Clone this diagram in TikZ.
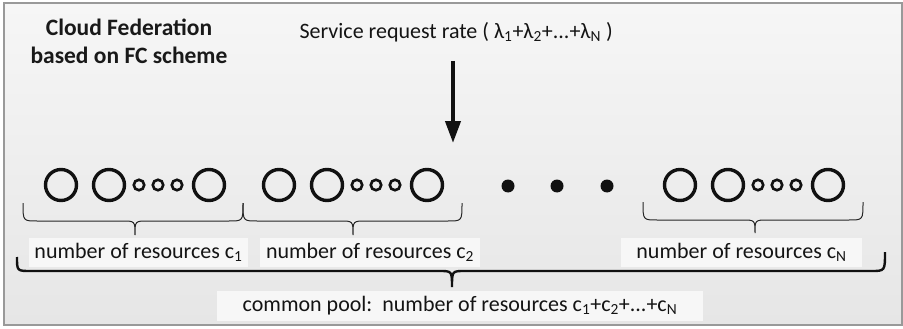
\documentclass[tikz,border=0pt]{standalone}
\usepackage{fontspec}
\setmainfont{Carlito}
\usetikzlibrary{arrows.meta,shapes.geometric}
\definecolor{framegray}{HTML}{999999}
\definecolor{boxfill}{HTML}{F7F7F7}
\definecolor{bgtop}{HTML}{F6F6F6}
\definecolor{bgbot}{HTML}{E6E6E6}
\definecolor{inkblack}{HTML}{111111}
\newcommand\dobrace[7]{%
  \draw[#1] (#2,#4) .. controls (#2,#5) .. ({#2+14},#5) -- ({#6-13},#5)
    .. controls (#6,#5) .. (#6,#7) .. controls (#6,#5) .. ({#6+13},#5)
    -- ({#3-14},#5) .. controls (#3,#5) .. (#3,#4);}
\tikzset{
  bigres/.style={circle,draw=inkblack,line width=3.4pt,minimum size=31pt,inner sep=0pt},
  smallres/.style={circle,draw=inkblack,line width=2.6pt,minimum size=10.5pt,inner sep=0pt},
  dotres/.style={circle,fill=inkblack,minimum size=13pt,inner sep=0pt},
  thinbrace/.style={draw=black!85,line width=1pt},
  thickbrace/.style={draw=inkblack,line width=2.4pt},
  labelbox/.style={fill=boxfill,inner sep=0pt,minimum height=29pt,font=\fontsize{22}{24}\selectfont,text=black!92},
  titletext/.style={font=\bfseries\fontsize{23.5}{28}\selectfont,align=center,text=black!90},
  ratetext/.style={font=\fontsize{22}{24}\selectfont,text=black!92},
}
\begin{document}
\begin{tikzpicture}[x=1pt,y=-1pt]
\useasboundingbox (0,0) rectangle (903,329);
\shade[top color=bgtop,bottom color=bgbot] (3.5,3.5) rectangle (901.5,325);
\draw[framegray,line width=2pt] (3.5,3.5) rectangle (901.5,325);

\node[titletext] (title) at (129,41) {Cloud Federation\\based on FC scheme};
\node[ratetext,anchor=west] (rate) at (296,32) {Service request rate ( λ\textsubscript{1}+λ\textsubscript{2}+...+λ\textsubscript{N} )};

\coordinate (arrtop) at (453,61);
\coordinate (arrtip) at (453,143);
\draw[inkblack,line width=4pt,-{Triangle[length=22pt,width=15pt]}] (arrtop) -- (arrtip);

\foreach \g/\n in {0/a,218/b,619/c}{
  \node[bigres] (\n1) at ({61+\g},185) {};
  \node[bigres] (\n2) at ({109+\g},185) {};
  \node[smallres] (\n3) at ({139+\g},185) {};
  \node[smallres] (\n4) at ({158+\g},185) {};
  \node[smallres] (\n5) at ({177+\g},185) {};
  \node[bigres] (\n6) at ({209+\g},185) {};
}
\node[dotres] (d1) at (508,186) {};
\node[dotres] (d2) at (557,186) {};
\node[dotres] (d3) at (607,186) {};

\dobrace{thinbrace}{23}{243}{203}{221}{135}{235}
\dobrace{thinbrace}{243}{462}{203}{221}{353}{235}
\dobrace{thinbrace}{643}{863}{202}{220}{755}{233}

\node[labelbox,minimum width=219pt] (l1) at (138.5,252.5) {number of resources c\textsubscript{1}};
\node[labelbox,minimum width=220pt] (l2) at (370,252.5) {number of resources c\textsubscript{2}};
\node[labelbox,minimum width=241pt] (lN) at (741.5,252.5) {number of resources c\textsubscript{N}};

\draw[thickbrace] (17,257) .. controls (17,271) .. (31,271) -- (439,271)
  .. controls (452,271) .. (452,287) .. controls (452,271) .. (465,271)
  -- (871,271) .. controls (885,271) .. (885,252);

\node[labelbox,minimum width=486pt,minimum height=30pt] (pool) at (460,306) {common pool:\ \ number of resources c\textsubscript{1}+c\textsubscript{2}+...+c\textsubscript{N}};
\end{tikzpicture}
\end{document}
